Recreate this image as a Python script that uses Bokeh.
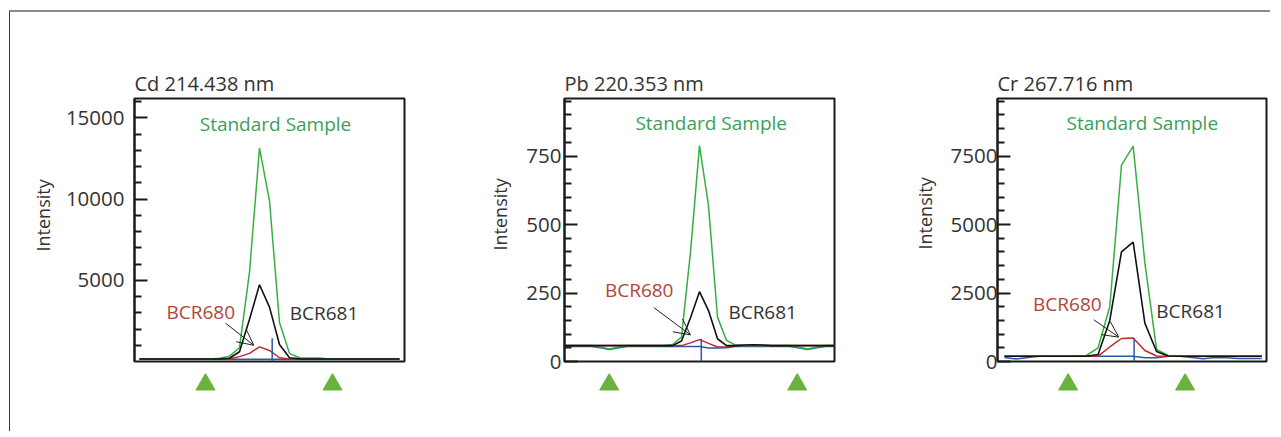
from bokeh.plotting import figure
from bokeh.models import Range1d, FixedTicker, Label, Arrow, OpenHead, Title
from bokeh.layouts import row, column
from bokeh.embed import file_html
from bokeh.resources import INLINE

# ---------------- data ----------------
# Cd 214.438 nm
cd_x = list(range(27))
cd_standard = [150, 150, 150, 150, 150, 150, 150, 150, 200, 330, 850, 5500, 13150, 9900,
               2400, 500, 230, 210, 210, 150, 150, 150, 150, 150, 150, 150, 150]
cd_bcr681 = [150, 150, 150, 150, 150, 150, 150, 150, 150, 200, 600, 2600, 4730, 3350,
             1050, 230, 160, 150, 150, 150, 150, 150, 150, 150, 150, 150, 150]
cd_bcr680 = [150, 150, 150, 150, 150, 150, 150, 150, 150, 150, 300, 500, 900, 680,
             230, 150, 150, 150, 150, 150, 150, 150, 150, 150, 150, 150, 150]
cd_background = [140, 140, 140, 140, 140, 140, 140, 140, 140, 140, 140, 140, 140, 140,
                 140, 140, 140, 140, 140, 140, 140, 140, 140, 140, 140, 140, 140]
cd_peak_marker = [13.27, 1436]
cd_bg_points = [6.6, 19.3]

# Pb 220.353 nm
pb_x = list(range(31))
pb_standard = [58, 58, 58, 58, 53, 46, 53, 58, 58, 58, 58, 58, 62, 89, 400, 788, 569, 162,
               77, 60, 58, 58, 58, 58, 58, 58, 53, 46, 53, 58, 58]
pb_bcr681 = [58, 58, 58, 58, 58, 58, 58, 58, 58, 58, 58, 58, 58, 75, 160, 255, 186, 83,
             58, 58, 60, 61, 60, 58, 58, 58, 58, 58, 58, 58, 58]
pb_bcr680 = [58, 58, 58, 58, 58, 58, 58, 58, 58, 58, 58, 58, 58, 58, 68, 80, 66, 53,
             53, 58, 58, 58, 58, 58, 58, 58, 58, 58, 58, 58, 58]
pb_background = [55, 55, 55, 55, 50, 44, 50, 55, 55, 55, 55, 55, 55, 55, 55, 55, 49, 49,
                 50, 55, 55, 55, 55, 55, 55, 55, 50, 44, 50, 55, 55]
pb_peak_marker = [15.2, 83]
pb_bg_points = [4.97, 25.86]

# Cr 267.716 nm
cr_x = list(range(23))
cr_standard = [193, 193, 193, 193, 193, 193, 193, 219, 500, 2000, 7165, 7860, 3600, 440,
               219, 193, 193, 193, 193, 193, 193, 193, 193]
cr_bcr681 = [193, 193, 193, 193, 193, 193, 193, 193, 255, 1500, 4000, 4360, 1400, 365,
             200, 193, 193, 193, 193, 193, 193, 193, 193]
cr_bcr680 = [193, 193, 193, 193, 193, 193, 193, 193, 193, 530, 840, 860, 400, 200,
             193, 193, 193, 193, 193, 193, 193, 193, 193]
cr_background = [150, 90, 150, 190, 190, 190, 190, 190, 190, 190, 190, 190, 135, 135,
                 190, 190, 150, 100, 150, 140, 110, 110, 110]
cr_peak_marker = [11.08, 860]
cr_bg_points = [5.44, 15.44]

titles = ["Cd 214.438 nm", "Pb 220.353 nm", "Cr 267.716 nm"]
series_names = ["Standard Sample", "BCR680", "BCR681"]
y_label = "Intensity"

# ---------------- styles ----------------
FONT = "Open Sans"
TXT = "#333333"
GREEN = "#35b040"
GREEN_TXT = "#3a9f5c"
RED = "#c0282d"
RED_TXT = "#b0463a"
BLACK = "#111111"
BLUE = "#2c58a8"
TRI = "#6ab23e"


def panel(x, std, b681, b680, bg, marker, bgpts, title, xr, yr, major, minor,
          mbl, mbr, width, tick_standoff, ylab_offset, ylab_standoff,
          lbl_std, lbl_680, lbl_681, arrow):
    p = figure(width=width, height=361, x_range=Range1d(*xr), y_range=Range1d(*yr),
               x_axis_type=None, toolbar_location=None, output_backend="svg",
               min_border_left=mbl, min_border_right=mbr, min_border_top=86,
               min_border_bottom=12, background_fill_color="white",
               border_fill_color="white")
    p.title.text = title
    p.title.text_font = FONT
    p.title.text_font_size = "20px"
    p.title.text_font_style = "normal"
    p.title.text_color = TXT
    p.title.align = "left"
    p.title.standoff = 4
    p.outline_line_color = "#1a1a1a"
    p.outline_line_width = 2
    p.outline_line_alpha = 1
    p.ygrid.visible = False
    ax = p.yaxis[0]
    ax.ticker = FixedTicker(ticks=major, minor_ticks=minor)
    ax.major_tick_in = 13
    ax.major_tick_out = 0
    ax.minor_tick_in = 7
    ax.minor_tick_out = 0
    ax.major_tick_line_width = 2
    ax.minor_tick_line_width = 2
    ax.axis_line_width = 2
    ax.axis_line_color = "#1a1a1a"
    ax.major_tick_line_color = "#1a1a1a"
    ax.minor_tick_line_color = "#1a1a1a"
    ax.major_label_text_font = FONT
    ax.major_label_text_font_size = "20.5px"
    ax.major_label_text_color = TXT
    ax.major_label_standoff = tick_standoff

    p.add_layout(Title(text=y_label, align="left", offset=ylab_offset,
                       standoff=ylab_standoff, text_font=FONT, text_font_size="18px",
                       text_font_style="normal", text_color=TXT), "left")

    p.line(x, bg, line_color=BLUE, line_width=1.5)
    p.line(x, b680, line_color=RED, line_width=1.5)
    p.line(x, std, line_color=GREEN, line_width=1.5)
    p.line(x, b681, line_color=BLACK, line_width=1.6)
    p.segment(x0=[marker[0]], y0=[yr[0]], x1=[marker[0]], y1=[marker[1]],
              line_color=BLUE, line_width=1.5)

    for (lx, ly), txt, col in [(lbl_std, series_names[0], GREEN_TXT),
                               (lbl_680, series_names[1], RED_TXT),
                               (lbl_681, series_names[2], TXT)]:
        p.add_layout(Label(x=lx, y=ly, text=txt, text_font=FONT, text_font_size="19px",
                           text_color=col, text_align="center",
                           text_baseline="alphabetic"))
    p.add_layout(Arrow(end=OpenHead(size=16, line_width=1, line_color="#222222"),
                       x_start=arrow[0], y_start=arrow[1], x_end=arrow[2], y_end=arrow[3],
                       line_width=1, line_color="#222222"))

    t = figure(width=width, height=58, x_range=p.x_range, y_range=Range1d(-47, 11),
               x_axis_type=None, y_axis_type=None, toolbar_location=None,
               output_backend="svg", min_border_left=mbl, min_border_right=mbr,
               min_border_top=0, min_border_bottom=0, outline_line_color=None)
    t.xgrid.visible = False
    t.ygrid.visible = False
    t.scatter(bgpts, [0] * len(bgpts), marker="triangle", size=19,
              fill_color=TRI, line_color=TRI)
    return column(p, t, spacing=0)


p1 = panel(cd_x, cd_standard, cd_bcr681, cd_bcr680, cd_background, cd_peak_marker,
           cd_bg_points, titles[0], (-0.5, 26.5), (0, 16200),
           [5000, 10000, 15000], [1000, 2000, 3000, 4000, 6000, 7000, 8000, 9000, 11000,
                                  12000, 13000, 14000, 16000],
           124, 30, 424, 10, 110, 15,
           (13.6, 14650), (6.13, 3060), (18.45, 3000), (8.6, 2360, 11.43, 1000))
p2 = panel(pb_x, pb_standard, pb_bcr681, pb_bcr680, pb_background, pb_peak_marker,
           pb_bg_points, titles[1], (0, 30), (0, 960),
           [0, 250, 500, 750], [50, 100, 150, 200, 300, 350, 400, 450, 550, 600, 650, 700,
                                800, 850, 900, 950],
           130, 32, 432, 3, 111, 23,
           (16.3, 869), (8.3, 261), (22.02, 179), (9.92, 197, 14.0, 97))
p3 = panel(cr_x, cr_standard, cr_bcr681, cr_bcr680, cr_background, cr_peak_marker,
           cr_bg_points, titles[2], (-0.6, 22.4), (0, 9600),
           [0, 2500, 5000, 7500], [500, 1000, 1500, 2000, 3000, 3500, 4000, 4500, 5500,
                                   6000, 6500, 7000, 8000, 8500, 9000, 9500],
           131, 4, 404, 0, 112, 21,
           (11.78, 8720), (5.37, 2098), (15.91, 1827), (7.63, 1523, 9.77, 890))

layout = row(p1, p2, p3, spacing=0, margin=(10, 0, 0, 9),
             styles={"border-top": "2px solid #8a8a8a", "border-left": "1px solid #3a3a3a"})

open("out.html", "w").write(file_html(layout, INLINE))
